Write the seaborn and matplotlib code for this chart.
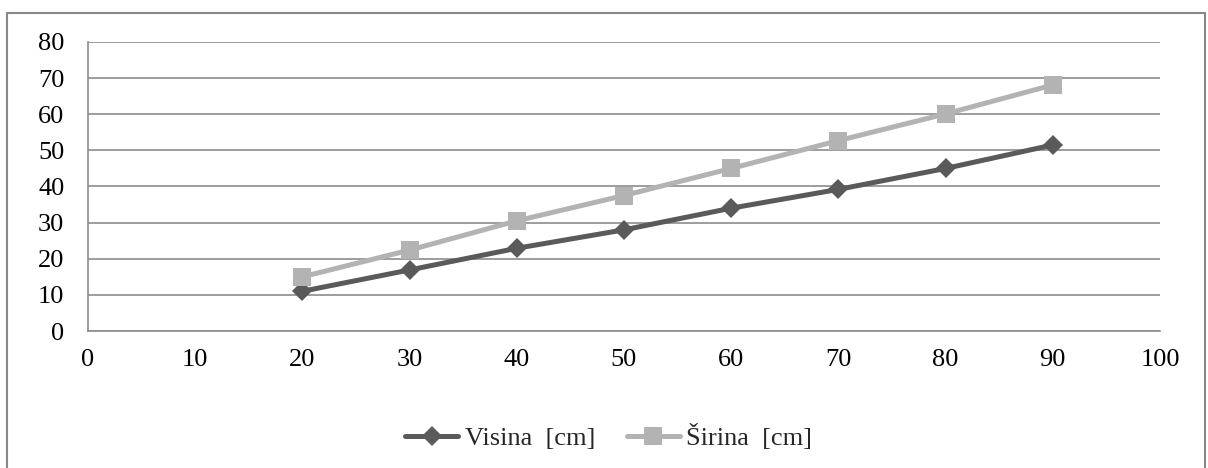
import pandas as pd
import numpy as np
import matplotlib.pyplot as plt
import seaborn as sns
from matplotlib.patches import Rectangle

# podaci ocitani sa grafika
duzina = [20, 30, 40, 50, 60, 70, 80, 90]
visina = [11, 16.9, 22.9, 28, 34, 39.2, 45, 51.5]
sirina = [15, 22.4, 30.5, 37.5, 45, 52.7, 60.1, 68.1]
x_ticks = [0, 10, 20, 30, 40, 50, 60, 70, 80, 90, 100]
y_ticks = [0, 10, 20, 30, 40, 50, 60, 70, 80]

df = pd.DataFrame({'x': duzina, 'Visina  [cm]': visina, 'Širina  [cm]': sirina})

sns.set_style('white')
plt.rcParams['font.family'] = ['Liberation Serif', 'DejaVu Serif']

fig = plt.figure(figsize=(12.08, 4.68), dpi=100)
ax = fig.add_axes([88/1208, 137/468, (1160-88)/1208, (331-42)/468])

grid_c = '#8c8c8c'
sns.lineplot(data=df, x='x', y='Visina  [cm]', ax=ax, color='#5a5a5a', lw=3.6,
             marker='D', markersize=10.5, markeredgewidth=0, label='Visina  [cm]')
sns.lineplot(data=df, x='x', y='Širina  [cm]', ax=ax, color='#b3b3b3', lw=3.6,
             marker='s', markersize=13.5, markeredgewidth=0, label='Širina  [cm]')

ax.set_xlim(0, 100)
ax.set_ylim(0, 80)
ax.set_xticks(x_ticks)
ax.set_yticks(y_ticks)
ax.set_xlabel('')
ax.set_ylabel('')
ax.yaxis.grid(True, color=grid_c, lw=1.2)
ax.set_axisbelow(True)
for s in ['top', 'right']:
    ax.spines[s].set_visible(False)
for s in ['left', 'bottom']:
    ax.spines[s].set_color(grid_c)
    ax.spines[s].set_linewidth(1.2)
ax.tick_params(axis='both', direction='out', length=6, width=1.2, color=grid_c,
               labelsize=19, labelcolor='black')
ax.tick_params(axis='y', pad=11)
ax.tick_params(axis='x', pad=7)

handles, labels = ax.get_legend_handles_labels()
ax.legend_.remove()
fig.legend(handles, labels, loc='center', bbox_to_anchor=(0.504, 0.066), ncol=2,
           frameon=False, fontsize=19, handlelength=2.0, handletextpad=0.25,
           columnspacing=1.2)

# okvir oko grafika
fig.patches.append(Rectangle((7/1208, -0.01), 1198/1208, 1 - 13/468 + 0.01,
                             transform=fig.transFigure, fill=False,
                             edgecolor='#888888', lw=1.5))

fig.savefig('out.png', dpi=100)
